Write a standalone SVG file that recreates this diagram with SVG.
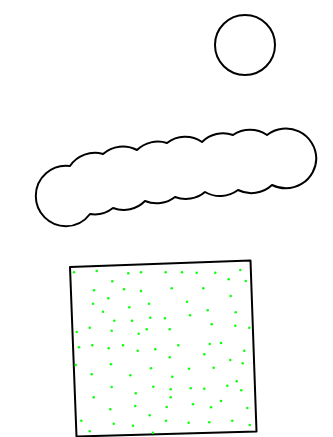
<svg xmlns="http://www.w3.org/2000/svg" width="333" height="437" viewBox="0 0 333 437">
<style>
.ln{fill:#fff;stroke:#000;stroke-width:2;stroke-linejoin:round}
.d{fill:#11ff11}
</style>
<rect width="333" height="437" fill="#fff"/>
<g id="sun"><circle class="ln" cx="245" cy="45" r="30"/></g>
<g id="cloud">
<path class="ln" d="M70,166 A30,30 0 0 1 103,154 A30,30 0 0 1 137,150 A30,30 0 0 1 167,143 A30,30 0 0 1 202,142 A30,30 0 0 1 233,135 A30,30 0 0 1 267,135 A30.5,30.5 0 0 1 316.3,158.4 A30.5,30.5 0 0 1 272,185 A30,30 0 0 1 238,190 A30,30 0 0 1 205,192 A30,30 0 0 1 175,197 A30,30 0 0 1 145,201 A30,30 0 0 1 113,208 A30,30 0 0 1 90,214 A30.2,30.2 0 0 1 66,226.2 A30.2,30.2 0 0 1 35.8,196 A30.2,30.2 0 0 1 70,166 Z"/>
</g>
<g id="box">
<polygon class="ln" points="70,267 250.5,260.5 256.5,431.5 76.5,436.5"/>
<g id="dots">
<circle class="d" cx="74" cy="272.3" r="1.3"/><circle class="d" cx="96.7" cy="271" r="1.3"/><circle class="d" cx="128.3" cy="273.3" r="1.3"/><circle class="d" cx="141" cy="272.3" r="1.3"/><circle class="d" cx="165.7" cy="272.3" r="1.3"/><circle class="d" cx="182" cy="272.3" r="1.3"/><circle class="d" cx="196.7" cy="272.7" r="1.3"/><circle class="d" cx="215.3" cy="272.7" r="1.3"/><circle class="d" cx="240.3" cy="270" r="1.3"/>
<circle class="d" cx="112.3" cy="281.3" r="1.3"/><circle class="d" cx="228.7" cy="279.3" r="1.3"/><circle class="d" cx="245.7" cy="281" r="1.3"/>
<circle class="d" cx="94" cy="290.3" r="1.3"/><circle class="d" cx="124" cy="289.3" r="1.3"/><circle class="d" cx="141" cy="291" r="1.3"/><circle class="d" cx="171.7" cy="288.3" r="1.3"/><circle class="d" cx="203.3" cy="288.3" r="1.3"/>
<circle class="d" cx="108.3" cy="298.3" r="1.3"/><circle class="d" cx="230.7" cy="296" r="1.3"/>
<circle class="d" cx="93" cy="303.7" r="1.3"/><circle class="d" cx="129.3" cy="307.3" r="1.3"/><circle class="d" cx="149" cy="303.7" r="1.3"/><circle class="d" cx="187" cy="301.7" r="1.3"/>
<circle class="d" cx="103" cy="311.7" r="1.3"/><circle class="d" cx="207.7" cy="310.3" r="1.3"/><circle class="d" cx="235.7" cy="312.3" r="1.3"/><circle class="d" cx="190" cy="315.3" r="1.3"/>
<circle class="d" cx="114.3" cy="320.7" r="1.3"/><circle class="d" cx="132" cy="320.7" r="1.3"/><circle class="d" cx="150.3" cy="317.7" r="1.3"/><circle class="d" cx="165" cy="318.3" r="1.3"/>
<circle class="d" cx="211.7" cy="324.3" r="1.3"/><circle class="d" cx="235.3" cy="325.7" r="1.3"/><circle class="d" cx="249.3" cy="327.7" r="1.3"/>
<circle class="d" cx="76.7" cy="332" r="1.3"/><circle class="d" cx="89.7" cy="327.7" r="1.3"/><circle class="d" cx="111.7" cy="330.7" r="1.3"/><circle class="d" cx="138.7" cy="333.7" r="1.3"/><circle class="d" cx="146.7" cy="329.3" r="1.3"/><circle class="d" cx="169.7" cy="329.3" r="1.3"/>
<circle class="d" cx="79" cy="347.3" r="1.3"/><circle class="d" cx="92.3" cy="345.3" r="1.3"/><circle class="d" cx="108.7" cy="348.3" r="1.3"/><circle class="d" cx="123" cy="345.3" r="1.3"/><circle class="d" cx="137.7" cy="350.7" r="1.3"/><circle class="d" cx="155.3" cy="349.3" r="1.3"/><circle class="d" cx="178.3" cy="345.3" r="1.3"/><circle class="d" cx="209.7" cy="344" r="1.3"/><circle class="d" cx="221" cy="343" r="1.3"/>
<circle class="d" cx="244.3" cy="350.7" r="1.3"/><circle class="d" cx="169.7" cy="357.3" r="1.3"/><circle class="d" cx="204.3" cy="354.3" r="1.3"/>
<circle class="d" cx="75.7" cy="365" r="1.3"/><circle class="d" cx="111" cy="364.3" r="1.3"/><circle class="d" cx="230.3" cy="360" r="1.3"/><circle class="d" cx="242.7" cy="363.3" r="1.3"/>
<circle class="d" cx="151" cy="368.3" r="1.3"/><circle class="d" cx="189" cy="368.7" r="1.3"/><circle class="d" cx="213.7" cy="367.7" r="1.3"/>
<circle class="d" cx="91.7" cy="374.3" r="1.3"/><circle class="d" cx="130.3" cy="375.3" r="1.3"/><circle class="d" cx="172.3" cy="376.7" r="1.3"/>
<circle class="d" cx="236.7" cy="381.3" r="1.3"/><circle class="d" cx="227.3" cy="385.7" r="1.3"/>
<circle class="d" cx="111.7" cy="387" r="1.3"/><circle class="d" cx="153.3" cy="386.7" r="1.3"/><circle class="d" cx="170.7" cy="389.3" r="1.3"/><circle class="d" cx="190.7" cy="388.3" r="1.3"/><circle class="d" cx="204.3" cy="388.7" r="1.3"/><circle class="d" cx="241.3" cy="390.3" r="1.3"/>
<circle class="d" cx="135.7" cy="393.3" r="1.3"/><circle class="d" cx="93.7" cy="397.3" r="1.3"/><circle class="d" cx="170.7" cy="397.3" r="1.3"/>
<circle class="d" cx="135.3" cy="406" r="1.3"/><circle class="d" cx="193" cy="404.3" r="1.3"/><circle class="d" cx="221" cy="401" r="1.3"/><circle class="d" cx="211" cy="407.3" r="1.3"/>
<circle class="d" cx="110.3" cy="409.3" r="1.3"/><circle class="d" cx="166.7" cy="407" r="1.3"/><circle class="d" cx="247.3" cy="408" r="1.3"/>
<circle class="d" cx="149.7" cy="415.3" r="1.3"/>
<circle class="d" cx="81.3" cy="420.7" r="1.3"/><circle class="d" cx="113.7" cy="423.7" r="1.3"/><circle class="d" cx="133" cy="425.7" r="1.3"/><circle class="d" cx="166" cy="420.7" r="1.3"/><circle class="d" cx="188.7" cy="422.7" r="1.3"/><circle class="d" cx="209.3" cy="422.3" r="1.3"/><circle class="d" cx="232.3" cy="420.7" r="1.3"/><circle class="d" cx="249.7" cy="425" r="1.3"/>
<circle class="d" cx="89.7" cy="431.3" r="1.3"/><circle class="d" cx="153" cy="432.7" r="1.3"/>
</g>
</g>
</svg>
